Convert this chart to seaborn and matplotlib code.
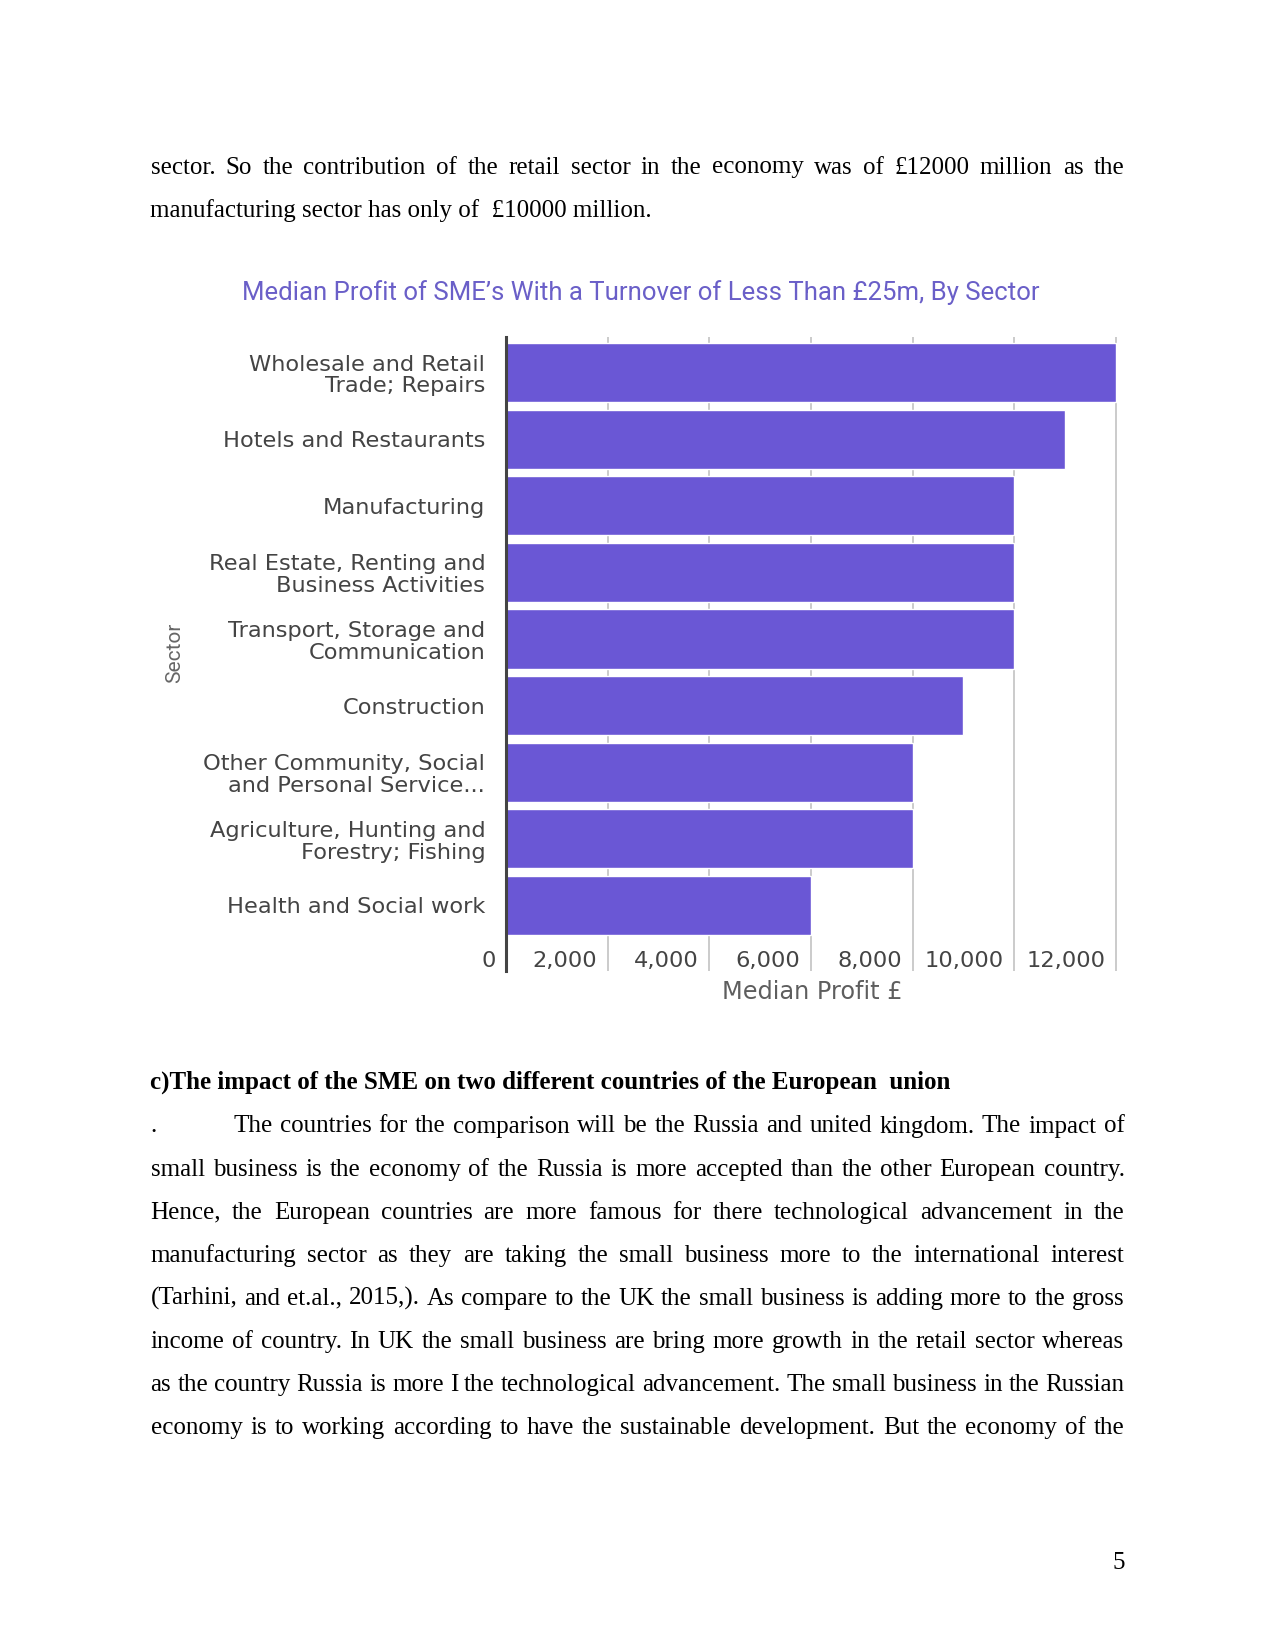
import matplotlib
matplotlib.use('Agg')
import matplotlib.pyplot as plt
import matplotlib.transforms as mtransforms
import seaborn as sns
import pandas as pd

# ---------------- data ----------------
sectors = [
    "Wholesale and Retail\nTrade; Repairs",
    "Hotels and Restaurants",
    "Manufacturing",
    "Real Estate, Renting and\nBusiness Activities",
    "Transport, Storage and\nCommunication",
    "Construction",
    "Other Community, Social\nand Personal Service...",
    "Agriculture, Hunting and\nForestry; Fishing",
    "Health and Social work",
]
profits = [12000, 11000, 10000, 10000, 10000, 9000, 8000, 8000, 6000]
x_ticks = [0, 2000, 4000, 6000, 8000, 10000, 12000]
x_tick_labels = ["0", "2,000", "4,000", "6,000", "8,000", "10,000", "12,000"]
chart_title = "Median Profit of SME\u2019s With a Turnover of Less Than \u00a325m, By Sector"
x_label = "Median Profit \u00a3"
y_label = "Sector"

top_lines = [
    ("sector. So the contribution of the retail sector in the economy was of  \u00a312000 million as the", True),
    ("manufacturing sector has only of  \u00a310000 million.", False),
]
heading = "c)The impact of the SME on two different countries of the European  union"
para_first = "The countries for the comparison will be the Russia and united kingdom. The impact of"
para_lines = [
    "small business is the economy of the Russia is more accepted than the other European country.",
    "Hence, the  European countries are more famous for there technological advancement in the",
    "manufacturing sector as they are taking the small business more to the international interest",
    "(Tarhini, and et.al., 2015,). As compare to the UK the small business is adding more to the gross",
    "income of country. In UK the small business are bring more growth in the retail sector whereas",
    "as the country Russia is more I the technological advancement. The small business in the Russian",
    "economy is to working according to have the sustainable development. But the economy of the",
]
page_number = "5"

# ---------------- figure ----------------
W, H = 1275, 1651
sns.set_theme(style="white")
plt.rcParams['font.family'] = ['DejaVu Sans']
fig = plt.figure(figsize=(W / 100, H / 100), dpi=100)
fig.patch.set_facecolor('white')

ax_left, ax_top, ax_bottom = 506, 337, 971
ax_w = 615
ax = fig.add_axes([ax_left / W, 1 - ax_bottom / H, ax_w / W, (ax_bottom - ax_top) / H])

df = pd.DataFrame({"Sector": sectors, "Profit": profits})
sns.barplot(data=df, x="Profit", y="Sector", orient="h", color="#6a57d5",
            saturation=1, width=0.89, ax=ax, zorder=2)

ax.set_xlim(0, 12100)
ax.set_ylim(8.985, -0.534)
ax.set_xticks(x_ticks)
ax.set_axisbelow(True)
ax.xaxis.grid(True, color="#bdbdbd", lw=1.1, zorder=0)
ax.yaxis.grid(False)
ax.tick_params(axis='x', length=0, labelbottom=False)
ax.tick_params(axis='y', length=0, pad=15, labelsize=16.2, labelcolor="#444444")
for lbl in ax.get_yticklabels():
    lbl.set_linespacing(1.12)
    lbl.set_ha('right')
ax.set_xlabel("")
ax.set_ylabel("")
for s in ["top", "right", "bottom"]:
    ax.spines[s].set_visible(False)
ax.spines["left"].set_color("#444444")
ax.spines["left"].set_linewidth(2.2)
ax.spines["left"].set_zorder(5)

offset = mtransforms.ScaledTranslation(-0.105, 0, fig.dpi_scale_trans)
for t, lab in zip(x_ticks, x_tick_labels):
    ax.text(t, 8.93, lab, transform=ax.transData + offset, ha='right', va='baseline',
            fontsize=16.2, color="#444444", clip_on=False)

fig.text(812 / W, 1 - 992 / H, x_label, ha='center', va='center', family=['DejaVu Sans'],
         fontsize=17.3, color="#5e5e5e")
fig.text(175 / W, 1 - 653 / H, y_label, ha='center', va='center', rotation=90,
         family=['Roboto', 'DejaVu Sans'], fontsize=15, color="#666666")
fig.text(641 / W, 1 - 293 / H, chart_title, ha='center', va='center',
         family=['Roboto', 'DejaVu Sans'], fontsize=18.5, color="#6a5fc8")

# ---------------- body text ----------------
renderer = fig.canvas.get_renderer()
serif = ['Liberation Serif', 'DejaVu Serif']
BODY = 18
X0, X1 = 150.5, 1124.5


def place_line(text, baseline, x0, x1, justify, weight='normal'):
    if not justify:
        fig.text(x0 / W, 1 - baseline / H, text, ha='left', va='baseline',
                 family=serif, fontsize=BODY, weight=weight, color='black')
        return
    words = text.split()
    objs = [fig.text(0, 1 - baseline / H, w, ha='left', va='baseline', family=serif,
                     fontsize=BODY, weight=weight, color='black') for w in words]
    widths = [o.get_window_extent(renderer).width for o in objs]
    gap = (x1 - x0 - sum(widths)) / (len(words) - 1)
    x = x0
    for o, w in zip(objs, widths):
        o.set_x(x / W)
        x += w + gap


place_line(top_lines[0][0], 173.5, X0, X1, top_lines[0][1])
place_line(top_lines[1][0], 217.5, X0, X1, top_lines[1][1])

place_line(heading, 1089, X0, X1, False, weight='bold')

base = 1132.5
step = 43.1
fig.text(X0 / W, 1 - base / H, ".", ha='left', va='baseline', family=serif, fontsize=BODY, color='black')
place_line(para_first, base, 233, X1, True)
for i, line in enumerate(para_lines):
    place_line(line, base + step * (i + 1), X0, X1, True)

fig.text(X1 / W, 1 - 1569 / H, page_number, ha='right', va='baseline', family=serif,
         fontsize=BODY, color='black')

fig.savefig("out.png", dpi=100, facecolor='white')
